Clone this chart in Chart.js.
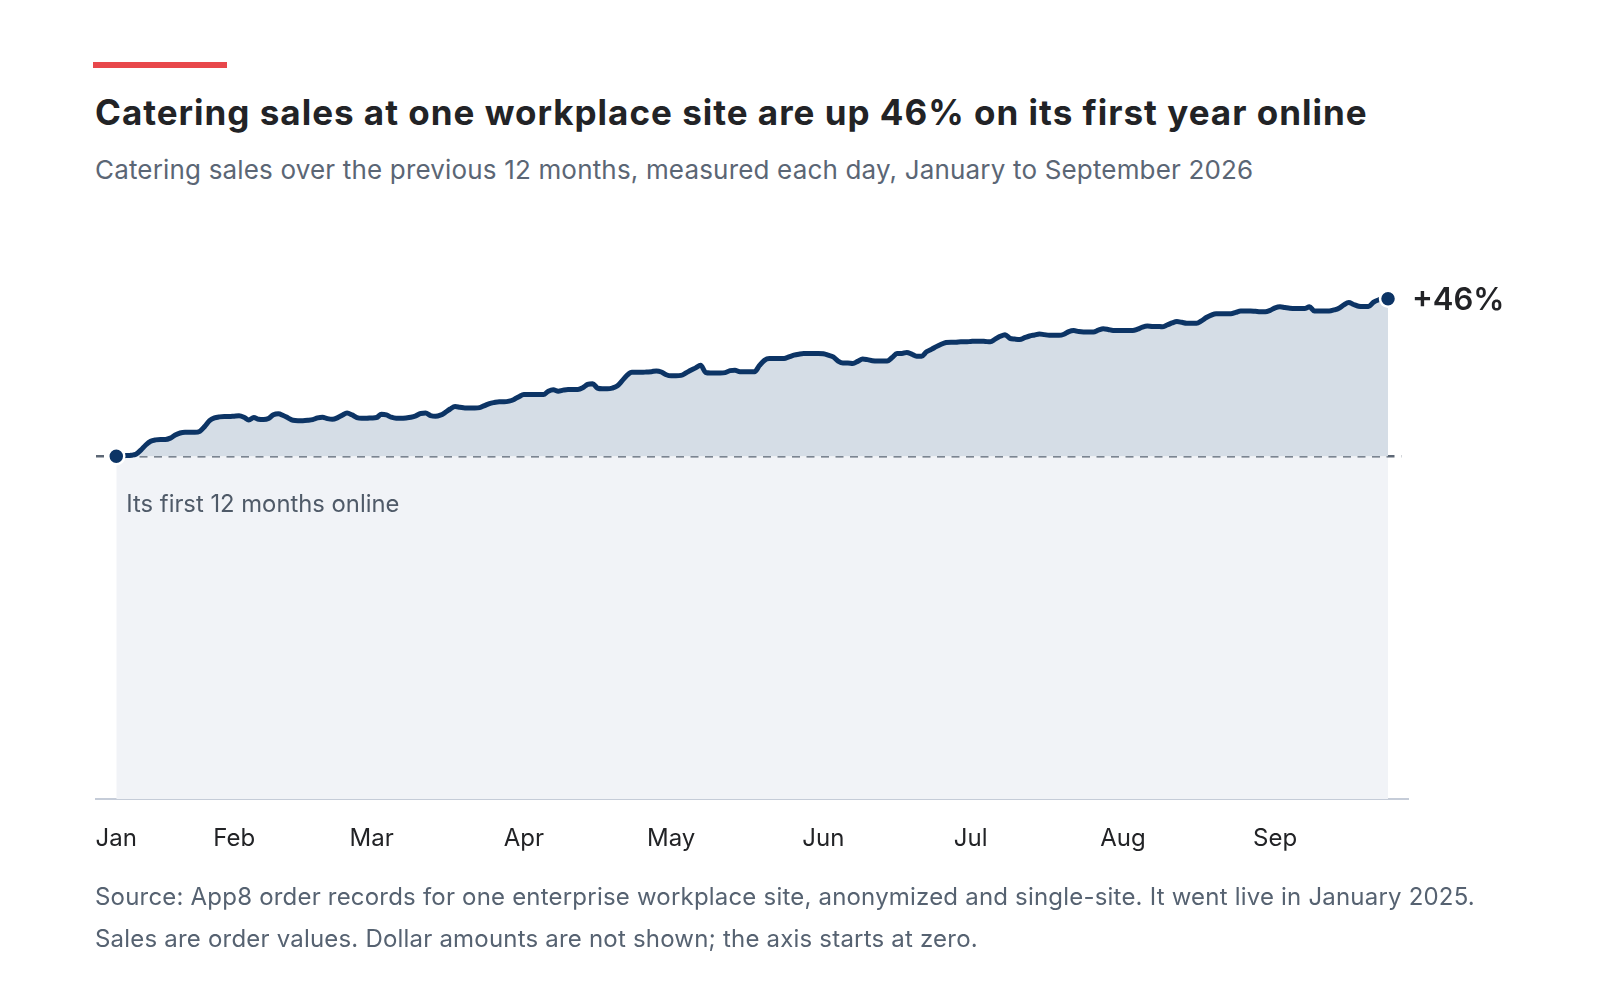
<!DOCTYPE html>
<html><head><meta charset="utf-8">
<script src="https://cdn.jsdelivr.net/npm/chart.js@4.4.1/dist/chart.umd.min.js"></script>
<style>
html,body{margin:0;padding:0;background:#fff;width:1600px;height:1000px;overflow:hidden;font-family:Inter,sans-serif;}
#bar{position:absolute;left:93px;top:62px;width:134px;height:6px;background:#e8474b;}
#title{position:absolute;left:95px;top:94.8px;font-size:35px;line-height:35px;font-weight:700;letter-spacing:1.0px;color:#222326;white-space:nowrap;margin:0}
#sub{position:absolute;left:95px;top:156.5px;font-size:26px;line-height:26px;font-weight:400;letter-spacing:0.17px;color:#5b6675;white-space:nowrap;margin:0}
#foot{position:absolute;left:95px;top:876.4px;font-size:24px;line-height:41.7px;letter-spacing:0.2px;color:#566271;margin:0;white-space:nowrap}
#wrap{position:absolute;left:0;top:0;width:1600px;height:1000px}
</style></head>
<body>
<div id="bar"></div>
<h1 id="title">Catering sales at one workplace site are up 46% on its first year online</h1>
<p id="sub">Catering sales over the previous 12 months, measured each day, January to September 2026</p>
<div id="wrap"><canvas id="c"></canvas></div>
<p id="foot">Source: App8 order records for one enterprise workplace site, anonymized and single-site. It went live in January 2025.<br>Sales are order values. Dollar amounts are not shown; the axis starts at zero.</p>
<script>
// Day-of-year (0 = Jan 1, 2026) of the first daily reading
const firstDay = 7;
// Trailing-12-month catering sales, indexed to the first 12 months online = 100
const sales = [
  100.0,100.1,100.2,100.3,100.6,101.8,103.3,104.4,104.8,104.9,
  104.9,105.3,106.2,106.8,107.0,107.0,107.0,107.3,108.7,110.4,
  111.2,111.5,111.6,111.6,111.7,111.8,111.4,110.6,111.3,110.8,
  110.7,111.0,112.1,112.4,111.9,111.2,110.5,110.4,110.4,110.5,
  110.7,111.2,111.4,111.0,110.8,111.2,112.0,112.6,112.1,111.3,
  111.1,111.1,111.2,111.3,112.3,112.1,111.4,111.1,111.1,111.2,
  111.4,111.8,112.5,112.6,111.9,111.7,112.0,112.8,113.8,114.5,
  114.3,114.1,114.1,114.1,114.2,114.8,115.4,115.7,115.9,115.9,
  116.1,116.6,117.4,118.0,118.0,118.0,118.0,118.0,119.0,119.4,
  119.0,119.3,119.5,119.5,119.5,120.0,121.0,121.2,119.9,119.7,
  119.7,119.9,120.5,122.0,123.6,124.5,124.5,124.5,124.6,124.7,
  124.9,124.6,123.8,123.5,123.5,123.6,124.3,125.1,125.8,126.6,
  124.5,124.3,124.3,124.3,124.4,125.0,125.1,124.7,124.7,124.7,
  124.7,126.5,128.0,128.5,128.5,128.5,128.5,129.0,129.5,129.8,
  130.0,130.0,130.0,130.0,129.9,129.5,129.0,127.8,127.2,127.2,
  127.1,127.7,128.4,128.2,127.9,127.8,127.8,127.8,128.8,130.0,
  130.0,130.3,129.8,129.2,129.2,130.5,131.2,132.0,132.7,133.2,
  133.3,133.3,133.4,133.4,133.5,133.6,133.6,133.5,133.4,134.2,
  135.0,135.5,134.4,134.2,134.1,134.6,135.1,135.4,135.7,135.5,
  135.3,135.3,135.3,135.6,136.4,136.7,136.4,136.3,136.3,136.3,
  136.8,137.2,137.0,136.7,136.7,136.7,136.7,136.7,137.1,137.7,
  138.0,137.9,137.9,137.8,138.3,138.9,139.3,139.1,138.8,138.8,
  138.8,139.5,140.5,141.2,141.6,141.6,141.6,141.6,142.0,142.4,
  142.4,142.4,142.3,142.2,142.2,142.6,143.3,143.6,143.4,143.2,
  143.1,143.1,143.1,143.6,142.4,142.4,142.4,142.4,142.7,143.2,
  144.2,144.9,144.3,143.8,143.7,143.7,144.9,145.6,146.0,146.0
];
const baselineValue = 100;
// Month tick positions (day of year) and labels
const tickDays   = [7, 31, 59, 90, 120, 151, 181, 212, 243];
const tickLabels = ['Jan','Feb','Mar','Apr','May','Jun','Jul','Aug','Sep'];
const baselineLabel = 'Its first 12 months online';

const lastDay = firstDay + sales.length - 1;
const xMin = 2.87, xMax = 270.07;
const dashEnd = 268.7;
const salesPoints = sales.map((v, i) => ({x: firstDay + i, y: v}));
const lastVal = sales[sales.length - 1];
const changeLabel = '+' + Math.round(lastVal - baselineValue) + '%';

const NAVY = '#0c3465';

const annot = {
  id: 'annot',
  afterDatasetsDraw(chart) {
    const {ctx, scales: {x, y}} = chart;
    ctx.save();
    const px = x.getPixelForValue(lastDay), py = y.getPixelForValue(lastVal);
    ctx.font = '600 31px Inter';
    ctx.fillStyle = '#222326';
    ctx.textBaseline = 'alphabetic';
    ctx.textAlign = 'left';
    ctx.fillText(changeLabel, px + 24, py + 11);
    ctx.font = '400 23.8px Inter';
    ctx.fillStyle = '#4f5a68';
    ctx.fillText(baselineLabel, x.getPixelForValue(firstDay) + 10, y.getPixelForValue(baselineValue) + 55.4);
    ctx.restore();
  }
};

Chart.defaults.font.family = 'Inter';
new Chart(document.getElementById('c'), {
  type: 'line',
  data: {
    datasets: [
      {
        label: 'Sales',
        data: salesPoints,
        borderColor: NAVY,
        borderWidth: 5,
        borderJoinStyle: 'round',
        borderCapStyle: 'round',
        cubicInterpolationMode: 'monotone',
        fill: {target: {value: baselineValue}, above: '#d5dde6', below: '#d5dde6'},
        pointRadius: ctx => (ctx.dataIndex === 0 || ctx.dataIndex === sales.length - 1) ? 8 : 0,
        pointBackgroundColor: NAVY,
        pointBorderColor: '#ffffff',
        pointBorderWidth: 2.5,
        order: 0
      },
      {
        label: 'Reference',
        data: [{x: xMin, y: baselineValue}, {x: dashEnd, y: baselineValue}],
        borderColor: '#5c6775',
        borderWidth: 2.5,
        borderDash: [8, 6.5],
        pointRadius: 0,
        fill: false,
        order: 1
      },
      {
        label: 'First year',
        data: [{x: firstDay, y: baselineValue}, {x: lastDay, y: baselineValue}],
        borderWidth: 0,
        borderColor: 'rgba(0,0,0,0)',
        backgroundColor: '#f1f3f7',
        pointRadius: 0,
        fill: 'origin',
        order: 2
      }
    ]
  },
  options: {
    responsive: true,
    maintainAspectRatio: false,
    animation: false,
    events: [],
    layout: {padding: {left: 96, right: 192, top: 216.4, bottom: 141}},
    plugins: {legend: {display: false}, tooltip: {enabled: false}},
    scales: {
      x: {
        type: 'linear',
        min: xMin, max: xMax,
        afterBuildTicks: s => { s.ticks = tickDays.map(v => ({value: v})); },
        afterFit: s => { s.height = 60; },
        grid: {display: true, drawOnChartArea: false, drawTicks: false, color: 'rgba(0,0,0,0)'},
        border: {display: true, color: '#c5ccd8', width: 2},
        ticks: {
          autoSkip: false,
          maxRotation: 0,
          padding: 25,
          color: '#222326',
          font: {size: 24, family: 'Inter'},
          callback: (v) => tickLabels[tickDays.indexOf(v)] ?? ''
        }
      },
      y: {
        display: false,
        min: 0, max: 170
      }
    }
  },
  plugins: [annot]
});
</script>
</body></html>
